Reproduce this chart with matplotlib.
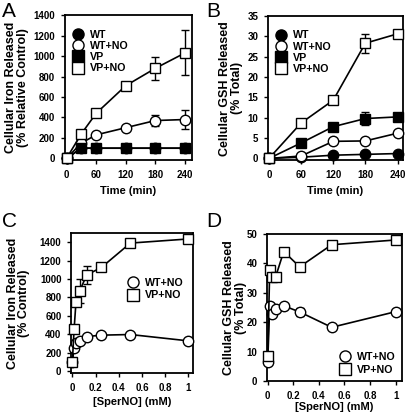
import matplotlib
matplotlib.use("Agg")
import matplotlib.pyplot as plt
from matplotlib.lines import Line2D
import numpy as np

plt.rcParams['font.family'] = ['Liberation Sans', 'DejaVu Sans']
plt.rcParams['font.weight'] = 'bold'

# Panel A: cellular iron released vs time
timeA = [0, 30, 60, 120, 180, 240]
A_WT = [0, 100, 100, 100, 100, 100]
A_WTNO = [0, 150, 230, 300, 370, 380]
A_WTNO_err = [0, 0, 0, 0, 50, 90]
A_VP = [0, 100, 100, 100, 100, 100]
A_VPNO = [0, 240, 440, 710, 880, 1030]
A_VPNO_err = [0, 0, 30, 0, 110, 220]

# Panel B: cellular GSH released vs time
timeB = [0, 60, 120, 180, 240]
B_WT = [0, 0.3, 0.8, 1.0, 1.2]
B_WTNO = [0, 0.6, 4.2, 4.3, 6.2]
B_VP = [0, 3.8, 7.8, 9.8, 10.2]
B_VP_err = [0, 0, 0, 1.5, 0]
B_VPNO = [0, 8.7, 14.3, 28.3, 30.6]
B_VPNO_err = [0, 0, 0, 2.3, 0]

# Panel C: iron released vs SperNO
sperC = [0, 0.0156, 0.03125, 0.0625, 0.125, 0.25, 0.5, 1.0]
C_WTNO = [100, 250, 305, 330, 375, 390, 397, 328]
C_VPNO = [100, 460, 745, 870, 1045, 1125, 1390, 1435]
C_VPNO_err = [0, 0, 0, 130, 100, 0, 0, 0]

# Panel D: GSH released vs SperNO
sperD = [0, 0.0156, 0.03125, 0.0625, 0.125, 0.25, 0.5, 1.0]
D_WTNO = [6.5, 25.5, 22.8, 24.5, 25.6, 23.5, 18.3, 23.6]
D_WTNO_err = [0, 0, 0, 0, 0, 1.5, 0, 0]
D_VPNO = [8.5, 37.8, 35.3, 35.5, 44.0, 38.8, 46.3, 47.9]
D_VPNO_err = [0, 0, 0, 0, 0, 1.0, 0, 0]

fig = plt.figure(figsize=(4.09, 4.19), dpi=100)

ms = 7.5
lw = 1.2
def series(ax, x, y, marker, fc, err=None, z=2):
    if err is not None:
        c = ax.errorbar(x, y, yerr=err, color='black', lw=lw, marker=marker, ms=ms,
                        mfc=fc, mec='black', mew=1.0, capsize=3, elinewidth=1.0,
                        capthick=1.0, zorder=z)
        for a in c.get_children():
            a.set_clip_on(False)
    else:
        ax.plot(x, y, color='black', lw=lw, marker=marker, ms=ms, mfc=fc,
                mec='black', mew=1.0, zorder=z, clip_on=False)

def style(ax, ylab_x, xlab_y):
    for s in ax.spines.values():
        s.set_linewidth(1.3)
        s.set_zorder(1)
    ax.tick_params(axis='x', direction='out', length=3, width=1, labelsize=7, pad=4)
    ax.tick_params(axis='y', direction='out', length=3, width=1, labelsize=7, pad=4)
    for t in ax.get_xticklabels() + ax.get_yticklabels():
        t.set_fontweight('bold')
    ax.yaxis.set_label_coords(ylab_x, 0.5)
    ax.xaxis.set_label_coords(0.5, xlab_y)

def labels(ax, xl, yl):
    ax.set_xlabel(xl, fontsize=8, fontweight='bold')
    ax.set_ylabel(yl, fontsize=9, fontweight='bold', linespacing=0.95)

def handles(specs):
    return [Line2D([], [], ls='none', marker=m, ms=8, mfc=fc, mec='black',
                   mew=1.0, label=lab) for m, fc, lab in specs]

def legend(ax, specs, spacing=0.25, **kw):
    leg = ax.legend(handles=handles(specs), frameon=False, fontsize=7.7,
                    handlelength=1.2, handletextpad=0.5, labelspacing=spacing, **kw)
    for t in leg.get_texts():
        t.set_fontweight('bold')

four = [('o', 'black', 'WT'), ('o', 'white', 'WT+NO'),
        ('s', 'black', 'VP'), ('s', 'white', 'VP+NO')]
two = [('o', 'white', 'WT+NO'), ('s', 'white', 'VP+NO')]

# A
axA = fig.add_axes([0.159, 0.617, 0.310, 0.347])
series(axA, timeA, A_WT, 'o', 'black', z=2)
series(axA, timeA, A_WTNO, 'o', 'white', err=A_WTNO_err, z=3)
series(axA, timeA, A_VP, 's', 'black', z=4)
series(axA, timeA, A_VPNO, 's', 'white', err=A_VPNO_err, z=5)
axA.set_xlim(-3, 254)
axA.set_ylim(-20, 1400)
axA.set_xticks([0, 60, 120, 180, 240])
axA.set_yticks(range(0, 1401, 200))
labels(axA, 'Time (min)', 'Cellular Iron Released\n(% Relative Control)')
legend(axA, four, spacing=0.12, loc='upper left', bbox_to_anchor=(0.02, 0.93),
       borderaxespad=0)
style(axA, -0.285, -0.175)
fig.text(0.005, 0.995, 'A', fontsize=15, fontweight='normal', va='top', ha='left')

# B
axB = fig.add_axes([0.655, 0.617, 0.330, 0.345])
series(axB, timeB, B_WT, 'o', 'black', z=2)
series(axB, timeB, B_WTNO, 'o', 'white', z=3)
series(axB, timeB, B_VP, 's', 'black', err=B_VP_err, z=4)
series(axB, timeB, B_VPNO, 's', 'white', err=B_VPNO_err, z=5)
axB.set_xlim(-2, 250)
axB.set_ylim(-0.5, 35)
axB.set_xticks([0, 60, 120, 180, 240])
axB.set_yticks(range(0, 36, 5))
labels(axB, 'Time (min)', 'Cellular GSH Released\n(% Total)')
legend(axB, four, spacing=0.12, loc='upper left', bbox_to_anchor=(0.02, 0.93),
       borderaxespad=0)
style(axB, -0.185, -0.175)
fig.text(0.505, 0.995, 'B', fontsize=15, fontweight='normal', va='top', ha='left')

# C
axC = fig.add_axes([0.174, 0.110, 0.298, 0.334])
series(axC, sperC, C_WTNO, 'o', 'white', z=3)
series(axC, sperC, C_VPNO, 's', 'white', err=C_VPNO_err, z=4)
axC.set_xlim(-0.01, 1.04)
axC.set_ylim(-20, 1500)
axC.set_xticks([0, 0.2, 0.4, 0.6, 0.8, 1])
axC.set_xticklabels(['0', '0.2', '0.4', '0.6', '0.8', '1'])
axC.set_yticks(range(0, 1401, 200))
labels(axC, '[SperNO] (mM)', 'Cellular Iron Released\n(% Control)')
legend(axC, two, loc='center right', bbox_to_anchor=(1.0, 0.6))
style(axC, -0.335, -0.175)
fig.text(0.005, 0.495, 'C', fontsize=15, fontweight='normal', va='top', ha='left')

# D
axD = fig.add_axes([0.653, 0.090, 0.330, 0.352])
series(axD, sperD, D_WTNO, 'o', 'white', err=D_WTNO_err, z=3)
series(axD, sperD, D_VPNO, 's', 'white', err=D_VPNO_err, z=4)
axD.set_xlim(-0.005, 1.05)
axD.set_ylim(0, 50)
axD.set_xticks([0, 0.2, 0.4, 0.6, 0.8, 1])
axD.set_xticklabels(['0', '0.2', '0.4', '0.6', '0.8', '1'])
axD.set_yticks(range(0, 51, 10))
labels(axD, '[SperNO] (mM)', 'Cellular GSH Released\n(% Total)')
legend(axD, two, loc='lower right', borderaxespad=0.2)
style(axD, -0.15, -0.14)
fig.text(0.505, 0.495, 'D', fontsize=15, fontweight='normal', va='top', ha='left')

fig.savefig('out.png', dpi=100)
